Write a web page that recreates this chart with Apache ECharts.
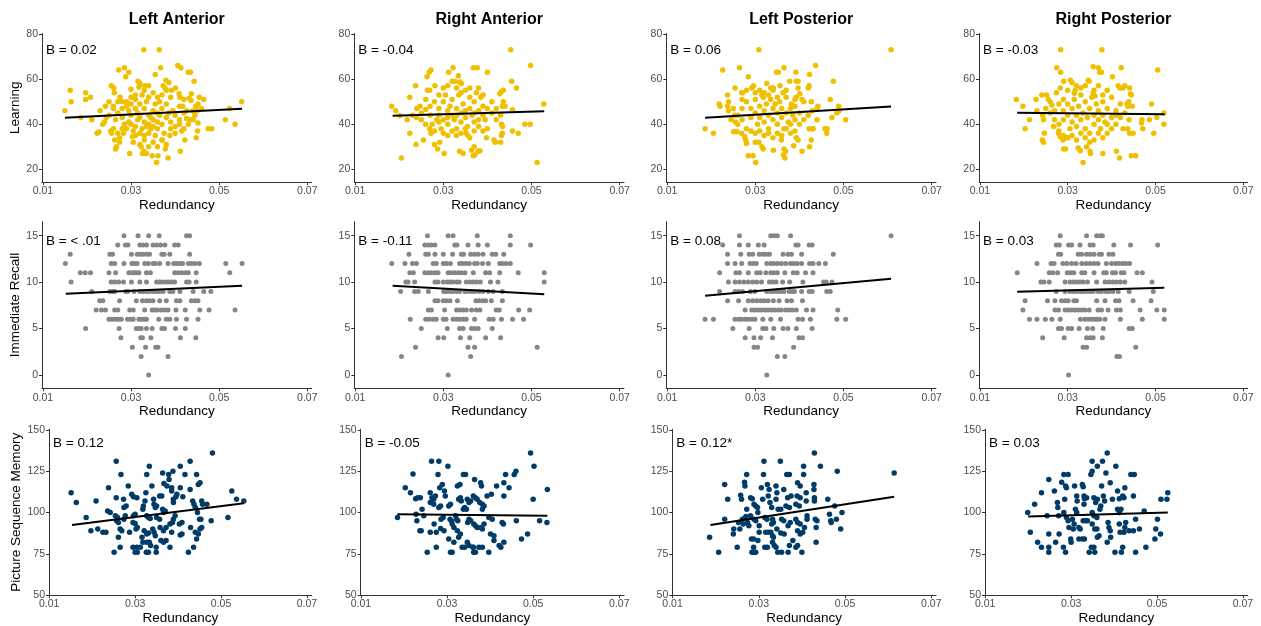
<!DOCTYPE html>
<html>
<head>
<meta charset="utf-8">
<script src="https://cdn.jsdelivr.net/npm/echarts@6/dist/echarts.min.js"></script>
<style>
  html, body { margin: 0; padding: 0; background: #ffffff; }
  #chart { width: 1261px; height: 626px; }
</style>
</head>
<body>
<div id="chart"></div>
<script>
// ---- labels and ticks ----
const regions = ['Left Anterior', 'Right Anterior', 'Left Posterior', 'Right Posterior'];
const measures = ['Learning', 'Immediate Recall', 'Picture Sequence Memory'];
const xTicks = [0.01, 0.03, 0.05, 0.07];
const learningTicks = [20, 40, 60, 80];
const recallTicks = [0, 5, 10, 15];
const pictureTicks = [50, 75, 100, 125, 150];
const learningBetas = ['B = 0.02', 'B = -0.04', 'B = 0.06', 'B = -0.03'];
const recallBetas = ['B = < .01', 'B = -0.11', 'B = 0.08', 'B = 0.03'];
const pictureBetas = ['B = 0.12', 'B = -0.05', 'B = 0.12*', 'B = 0.03'];

// ---- Learning: [redundancy, score] ----
const learningLA = [
  [0.0329,73],[0.0364,73],[0.0272,64],[0.0285,65],[0.0295,63],[0.0367,65],[0.0406,66],[0.0413,65],[0.043,63],[0.0435,63],
  [0.0355,62],[0.0288,61],[0.0162,55],[0.0164,50],[0.0197,54],[0.0197,51],[0.0208,52],[0.0186,43],[0.015,46],[0.0211,42],
  [0.0223,36],[0.0227,36.5],[0.0236,40],[0.0242,48],[0.0255,57],[0.0261,56],[0.0262,54],[0.027,50],[0.026,47],[0.0244,43],
  [0.0254,37],[0.0256,36],[0.0263,33],[0.0267,30],[0.0265,29],[0.0274,34],[0.0274,32],[0.028,38],[0.0283,36],[0.0297,27],
  [0.0303,34.5],[0.0305,32],[0.03,55.5],[0.0316,59],[0.032,58],[0.0318,56.5],[0.0331,57],[0.034,57],[0.0323,30],[0.0329,28],
  [0.0326,27],[0.0335,27],[0.0348,26],[0.0361,26],[0.0358,23],[0.0384,25],[0.0378,29],[0.0412,28],[0.0371,33],[0.0388,35],
  [0.0422,33],[0.0448,34],[0.0379,59.5],[0.0386,58.5],[0.0373,57],[0.0377,56],[0.0392,55],[0.0401,56],[0.0409,53.5],[0.0411,52],
  [0.0443,59],[0.0437,53.5],[0.0432,51.5],[0.0436,50.5],[0.042,51],[0.0455,52],[0.0465,51],[0.0452,49],[0.0447,48],[0.0551,50],
  [0.0524,47],[0.0514,42],[0.0536,40],[0.0475,38],[0.0483,38],[0.0451,37],[0.0452,40.5],[0.0441,42],[0.0433,42],[0.0426,42.5],
  [0.0426,46],[0.0417,48],
  [0.028,50],[0.029,48],[0.0295,46],[0.030,44],[0.030,49],[0.031,51],[0.031,47],[0.0315,45],[0.032,43],[0.032,49],
  [0.0325,53],[0.033,41],[0.033,47],[0.0335,50],[0.034,44],[0.034,40],[0.0345,38],[0.035,42],[0.035,46],[0.0355,49],
  [0.036,41],[0.036,38],[0.0365,44],[0.037,47],[0.037,40],[0.0375,36],[0.038,43],[0.038,49],[0.0385,45],[0.039,41],
  [0.039,52],[0.0395,46],[0.040,39],[0.040,44],[0.041,48],[0.041,42],[0.0415,37],[0.042,45],[0.043,40],[0.044,46],
  [0.028,43],[0.027,45],[0.0265,42],[0.026,38],[0.027,36],[0.0285,40],[0.029,38],[0.0295,41],[0.0305,37],[0.031,39],
  [0.0315,42],[0.032,36],[0.0325,38],[0.033,35],[0.0335,39],[0.034,36],[0.0345,43],[0.035,39],[0.0355,35],[0.036,45],
  [0.0365,50],[0.037,53],[0.038,55],[0.036,52],[0.035,54],[0.034,52],[0.033,55],[0.032,58],[0.031,53],[0.030,52],
  [0.029,50],[0.028,47],[0.0275,52],[0.030,40],[0.031,35],[0.032,31],[0.033,33],[0.034,30],[0.035,32],[0.036,30],
  [0.037,33],[0.038,31],[0.039,38],[0.040,36],[0.041,40],[0.042,38],[0.025,44],[0.024,41],[0.023,46],[0.026,48],
  [0.025,50],[0.0445,44],[0.045,46],[0.046,47]
];
const learningRA = [
  [0.0453,73],[0.0498,66],[0.0513,23],[0.0205,25],[0.0528,49],[0.0183,48],[0.0192,46],[0.0201,43.7],[0.0224,52],[0.0237,57],
  [0.0224,36],[0.0238,31],[0.0255,33],[0.0218,42],[0.0239,43],[0.0247,48],[0.0263,61],[0.0268,63],[0.0272,64],[0.0264,55],
  [0.0269,55],[0.0281,57],[0.026,46.5],[0.0272,36],[0.0269,38],[0.0287,29],[0.028,31],[0.0292,32],[0.0302,27],[0.0312,63],
  [0.0322,65],[0.032,59],[0.0326,59],[0.0334,61.5],[0.0337,58.7],[0.0341,58],[0.0368,65],[0.0377,65],[0.04,63],[0.0436,55],
  [0.0428,53.5],[0.0432,54.5],[0.0455,59],[0.0466,56],[0.0436,50],[0.0434,48],[0.0457,46.4],[0.0485,40],[0.0497,40],[0.047,36],
  [0.0457,37],[0.0432,40],[0.0434,39],[0.0432,35],[0.0434,36],[0.043,32],[0.0415,33],[0.0418,32],[0.0398,34],[0.037,30],
  [0.0364,28.5],[0.0368,26],[0.0372,26.5],[0.0379,28],[0.0383,28.3],[0.0337,28],[0.0345,27],[0.0352,36],[0.0356,35],
  [0.028,50],[0.029,47],[0.029,44],[0.030,42],[0.030,50],[0.0305,53],[0.031,46],[0.031,40],[0.0315,48],[0.032,44],
  [0.032,51],[0.0325,42],[0.033,47],[0.033,38],[0.0335,53],[0.034,45],[0.034,41],[0.0345,49],[0.035,43],[0.035,55],
  [0.0355,39],[0.036,47],[0.036,52],[0.0365,44],[0.037,41],[0.037,50],[0.0375,54],[0.038,46],[0.038,39],[0.0385,52],
  [0.039,44],[0.039,48],[0.0395,42],[0.040,47],[0.040,38],[0.041,45],[0.041,50],[0.042,42],[0.027,44],[0.0275,40],
  [0.028,37],[0.0285,42],[0.0295,38],[0.030,36],[0.031,35],[0.032,37],[0.033,35],[0.034,36],[0.035,38],[0.036,34],
  [0.037,37],[0.038,42],[0.039,37],[0.029,53],[0.030,56],[0.031,57],[0.033,56],[0.034,54],[0.036,56],[0.038,56],
  [0.039,53],[0.037,45],[0.035,46],[0.033,44],[0.031,43],[0.029,41],[0.027,48],[0.026,51],[0.025,45],[0.024,47],
  [0.023,44],[0.026,40],[0.025,42],[0.042,47],[0.043,44],[0.044,48]
];
const learningLP = [
  [0.0608,73],[0.0308,73],[0.0226,64],[0.0264,65],[0.0284,61],[0.0365,65],[0.0392,63],[0.0348,63],[0.0352,63],[0.0437,66],
  [0.0423,62],[0.0477,59],[0.0186,38],[0.0205,36],[0.0218,49],[0.022,48],[0.0237,53],[0.0239,50],[0.0237,48],[0.0239,46],
  [0.0254,56],[0.0253,44],[0.0255,41],[0.0251,36.7],[0.0258,36.7],[0.0269,36],[0.0276,34.5],[0.0278,33],[0.028,31.5],[0.0284,26],
  [0.0295,26],[0.0301,23],[0.0269,54],[0.0271,54],[0.0292,56],[0.0296,57],[0.0318,52],[0.0326,58],[0.0335,56],[0.0341,56],
  [0.0356,57],[0.0363,54],[0.0378,59],[0.0393,59],[0.0397,59],[0.0397,56],[0.0401,53.5],[0.0393,52],[0.0406,51],[0.039,51],
  [0.0382,49],[0.042,56],[0.0422,57],[0.0427,50],[0.0429,46],[0.0442,48],[0.047,51],[0.0489,48],[0.0485,45],[0.049,46],
  [0.0505,42],[0.0474,43],[0.0458,38],[0.0462,36],[0.0463,38],[0.0431,38],[0.0422,38],[0.0427,33],[0.0423,30],[0.0406,28],
  [0.0397,33],[0.0393,34],[0.0387,30.5],[0.0365,29],[0.0369,28],[0.0364,26.5],[0.0367,25],[0.0359,33],[0.0341,28.5],[0.0315,30],
  [0.0318,29],[0.0308,32],[0.03,32],
  [0.028,50],[0.029,47],[0.029,43],[0.030,45],[0.030,51],[0.0305,40],[0.031,48],[0.031,43],[0.0315,53],[0.032,46],
  [0.032,41],[0.0325,49],[0.033,44],[0.033,38],[0.0335,51],[0.034,47],[0.034,42],[0.0345,49],[0.035,45],[0.035,40],
  [0.0355,50],[0.036,43],[0.036,47],[0.0365,38],[0.037,45],[0.037,52],[0.0375,41],[0.038,47],[0.038,36],[0.0385,44],
  [0.039,42],[0.039,48],[0.040,40],[0.040,45],[0.041,42],[0.041,50],[0.042,44],[0.027,42],[0.027,47],[0.026,40],
  [0.028,38],[0.029,37],[0.030,36],[0.031,37],[0.032,35],[0.033,36],[0.034,34],[0.035,36],[0.036,35],[0.037,38],
  [0.038,40],[0.039,37],[0.030,54],[0.031,55],[0.032,54],[0.033,53],[0.034,55],[0.035,52],[0.037,55],[0.044,42],
  [0.043,38],[0.044,47],[0.026,44],[0.025,47],[0.0245,42],[0.027,51],[0.028,55]
];
const learningRP = [
  [0.0284,73],[0.0378,73],[0.0183,51],[0.0198,48],[0.0203,38],[0.0213,42],[0.0228,51],[0.0241,53],[0.023,46],[0.0243,44],
  [0.0245,42],[0.0242,33],[0.0245,32],[0.0247,36],[0.0252,53],[0.0256,51],[0.026,50],[0.0264,48.5],[0.0275,65],[0.0284,63],
  [0.0274,54],[0.0283,56],[0.0291,59],[0.0295,29],[0.0291,29],[0.0268,39],[0.0279,36],[0.0283,34.5],[0.0289,33],[0.0298,34],
  [0.0306,59.5],[0.031,58.5],[0.0317,55],[0.0315,53.7],[0.0324,29.5],[0.0329,28.3],[0.0335,23],[0.0343,30],[0.0351,28],[0.0352,27],
  [0.0358,65.5],[0.037,65],[0.0373,63],[0.0377,63],[0.0347,59.5],[0.0349,59],[0.0358,54],[0.0362,52.5],[0.038,27],[0.0402,61],
  [0.0422,65],[0.0415,57],[0.0419,56],[0.043,57],[0.0426,56],[0.0441,56],[0.0443,53.5],[0.0445,53],[0.0411,28],[0.0418,25],
  [0.0445,26],[0.0455,26],[0.0449,36],[0.0437,38],[0.0426,38],[0.0441,36],[0.0471,38],[0.0468,40.5],[0.0469,42],[0.0486,42],
  [0.0491,49],[0.0496,36],[0.0505,64],[0.0503,43],[0.0519,45],[0.0519,40],[0.0437,48],[0.0439,50],[0.0447,48],[0.0411,44],
  [0.028,49],[0.029,46],[0.029,42],[0.030,44],[0.030,49],[0.0305,38],[0.031,47],[0.031,41],[0.0315,51],[0.032,44],
  [0.032,39],[0.0325,48],[0.033,42],[0.033,53],[0.0335,45],[0.034,38],[0.034,50],[0.0345,43],[0.035,47],[0.035,36],
  [0.0355,52],[0.036,44],[0.036,40],[0.0365,49],[0.037,42],[0.037,46],[0.0375,38],[0.038,50],[0.038,44],[0.0385,41],
  [0.039,47],[0.039,36],[0.040,43],[0.040,52],[0.041,40],[0.041,46],[0.042,43],[0.042,49],[0.027,46],[0.027,42],
  [0.028,40],[0.028,37],[0.029,35],[0.030,34],[0.031,35],[0.032,33],[0.033,36],[0.034,34],[0.035,32],[0.036,33],
  [0.037,36],[0.038,34],[0.039,40],[0.040,38],[0.033,56],[0.034,57],[0.036,55],[0.037,57],[0.038,53],[0.039,55],
  [0.032,57],[0.030,55],[0.029,51],[0.026,45],[0.025,47],[0.043,45],[0.044,42],[0.0435,49]
];

// ---- Immediate Recall: redundancy values listed under each score 0..15 ----
const recallLA = [
  [0.034], [], [0.0323,0.0384], [0.0303,0.0333,0.0356,0.0361],
  [0.0277,0.0322,0.0326,0.0345,0.0412,0.0447],
  [0.0197,0.0273,0.0312,0.0318,0.0323,0.0335,0.0348,0.037,0.0376,0.0401,0.0423],
  [0.025,0.0255,0.0261,0.0267,0.0272,0.0278,0.0292,0.0299,0.0305,0.0318,0.0324,0.033,0.0335,0.0363,0.038,0.0388,0.0403,0.0426,0.0452],
  [0.0221,0.0233,0.0242,0.0263,0.027,0.0297,0.0305,0.0331,0.0348,0.0354,0.036,0.0369,0.0377,0.0384,0.0402,0.0423,0.0456,0.0477,0.0536],
  [0.0229,0.0236,0.0274,0.0312,0.0326,0.0335,0.0342,0.035,0.0365,0.038,0.0403,0.0411,0.0437,0.0445,0.0452],
  [0.0211,0.0252,0.0258,0.0263,0.0288,0.0293,0.0307,0.032,0.0327,0.0335,0.0342,0.035,0.0358,0.0365,0.0373,0.0388,0.0395,0.0411,0.0441,0.0465,0.0481],
  [0.0164,0.0255,0.0263,0.0272,0.0283,0.0301,0.032,0.0335,0.0358,0.0364,0.0369,0.0377,0.0384,0.0392,0.0399,0.0426,0.0432,0.0448],
  [0.0185,0.0196,0.0208,0.025,0.0265,0.0295,0.0301,0.0307,0.0312,0.0318,0.0335,0.0344,0.0399,0.0407,0.0415,0.0423,0.043,0.0448,0.0524],
  [0.0151,0.0255,0.0263,0.0284,0.0302,0.0308,0.0314,0.0331,0.0339,0.035,0.0355,0.0365,0.0384,0.0397,0.0403,0.0411,0.0417,0.043,0.0437,0.0445,0.0455,0.0515,0.0552],
  [0.0162,0.0252,0.0258,0.0301,0.0314,0.0321,0.0327,0.0335,0.0342,0.037,0.0375,0.0388,0.0433],
  [0.027,0.0287,0.0293,0.032,0.0327,0.0335,0.035,0.0358,0.0367,0.0377,0.0399,0.0407],
  [0.0284,0.0316,0.034,0.0364,0.0426,0.0433]
];
const recallRA = [
  [0.0311], [], [0.0205,0.0362], [0.0237,0.0356,0.0371,0.0513],
  [0.0288,0.0301,0.0339,0.036,0.0396,0.043],
  [0.025,0.0309,0.0337,0.0345,0.0364,0.0371,0.0379,0.0411],
  [0.0225,0.026,0.0268,0.0277,0.0284,0.03,0.0306,0.0322,0.033,0.0337,0.0345,0.0352,0.0371,0.0404,0.0413,0.0432,0.0457,0.0482],
  [0.0266,0.0273,0.0303,0.033,0.0337,0.0345,0.0352,0.0364,0.0375,0.0383,0.042,0.0427,0.0471,0.0496],
  [0.0281,0.0288,0.03,0.0307,0.0315,0.0332,0.0374,0.0381,0.0389,0.0396,0.0409,0.0434],
  [0.0203,0.0235,0.0243,0.0266,0.0301,0.0307,0.0315,0.0322,0.033,0.0337,0.0349,0.0356,0.0364,0.0371,0.0381,0.039,0.0402,0.0413,0.0434],
  [0.0215,0.022,0.0235,0.0281,0.0288,0.03,0.0309,0.0315,0.0321,0.033,0.0336,0.0352,0.036,0.0367,0.0375,0.0384,0.0407,0.0424,0.0529],
  [0.0224,0.0232,0.0258,0.0266,0.0273,0.0281,0.0288,0.0311,0.0318,0.0326,0.0334,0.0341,0.0349,0.0368,0.0396,0.0405,0.0428,0.047,0.0529],
  [0.0183,0.0213,0.023,0.0239,0.0277,0.0284,0.03,0.0307,0.0316,0.0337,0.0343,0.0351,0.0359,0.0371,0.0377,0.0389,0.0402,0.0428,0.0434,0.0442,0.0452],
  [0.0222,0.026,0.0266,0.0281,0.03,0.0321,0.0341,0.0346,0.0362,0.0371,0.0379,0.039,0.0411,0.0419,0.0437],
  [0.0258,0.0266,0.0273,0.0281,0.0326,0.0331,0.0356,0.0379,0.04,0.0452,0.0498],
  [0.0264,0.0311,0.0322,0.0377,0.0452]
];
const recallLP = [
  [0.0326], [], [0.035,0.0367], [0.0297,0.0305,0.0387],
  [0.0277,0.0297,0.0312,0.0339,0.0399,0.0407],
  [0.0249,0.0286,0.0317,0.0324,0.0342,0.0363,0.0374,0.0393,0.0429],
  [0.0186,0.0205,0.0254,0.0262,0.0269,0.0277,0.0284,0.0292,0.0299,0.0317,0.0335,0.0357,0.0397,0.0407,0.0425,0.0485,0.0505],
  [0.0277,0.0292,0.0299,0.0307,0.0314,0.0322,0.0329,0.0337,0.0344,0.0352,0.0359,0.0369,0.0377,0.0384,0.0393,0.0416,0.0431,0.0487],
  [0.0237,0.0262,0.0284,0.0294,0.0303,0.0312,0.032,0.0329,0.0341,0.0354,0.0372,0.0382,0.0407],
  [0.0219,0.0254,0.0262,0.0271,0.0289,0.0299,0.0326,0.0335,0.0342,0.035,0.0357,0.0365,0.0377,0.0384,0.0389,0.0405,0.0422,0.0429,0.0462,0.047],
  [0.0239,0.0254,0.0264,0.0274,0.0284,0.0294,0.0303,0.0314,0.0332,0.0339,0.0347,0.0362,0.0378,0.0408,0.0455,0.0461,0.0474],
  [0.0219,0.0256,0.0264,0.0284,0.0303,0.0311,0.0324,0.0335,0.0342,0.035,0.0367,0.0386,0.0395,0.0414,0.0431],
  [0.0237,0.0254,0.0269,0.0288,0.0295,0.0302,0.0326,0.0335,0.0342,0.035,0.0359,0.0369,0.038,0.0387,0.0395,0.0405,0.0423,0.0431,0.0444,0.0459],
  [0.0237,0.0267,0.0286,0.0294,0.0309,0.0317,0.0324,0.0332,0.0363,0.0374,0.0382,0.0405,0.0477],
  [0.0226,0.0264,0.0284,0.0307,0.032,0.0392,0.0397,0.0422,0.0429],
  [0.0264,0.0335,0.0343,0.035,0.038,0.0608]
];
const recallRP = [
  [0.0302], [], [0.0412,0.0418], [0.0335,0.0343,0.0455],
  [0.0243,0.0292,0.0343,0.0351,0.0358,0.0379],
  [0.0279,0.0286,0.0301,0.0309,0.0326,0.0345,0.0357,0.0381,0.044,0.0447],
  [0.0213,0.023,0.0249,0.0264,0.0283,0.0329,0.0339,0.0347,0.0354,0.036,0.0366,0.0373,0.0385,0.042,0.047,0.052],
  [0.0198,0.0271,0.0279,0.0294,0.0301,0.0309,0.0316,0.0324,0.0332,0.0339,0.0349,0.0369,0.0377,0.0392,0.0411,0.042,0.0465,0.0503,0.052],
  [0.0203,0.0254,0.0271,0.0286,0.0294,0.0301,0.0314,0.032,0.0366,0.0385,0.0409,0.0417,0.0449,0.049],
  [0.0274,0.0294,0.0305,0.0313,0.032,0.0328,0.0335,0.0343,0.0351,0.0358,0.0369,0.0377,0.0387,0.0394,0.0403,0.0415,0.044,0.0495],
  [0.0239,0.0246,0.0258,0.0294,0.0305,0.0313,0.032,0.0328,0.0335,0.0345,0.0366,0.0385,0.0394,0.0403,0.0411,0.042,0.043,0.0492],
  [0.0185,0.0258,0.0266,0.0277,0.0299,0.0307,0.0314,0.0332,0.0339,0.036,0.0382,0.0388,0.0402,0.0409,0.0422,0.0428,0.0458,0.047],
  [0.023,0.0262,0.0269,0.0289,0.0298,0.0309,0.0319,0.0332,0.0342,0.0351,0.036,0.0369,0.0388,0.04,0.0409,0.0417,0.0425,0.0432,0.0441],
  [0.0279,0.0284,0.0324,0.0332,0.0343,0.0351,0.036,0.0372,0.0377,0.0394,0.0403],
  [0.0274,0.0281,0.0302,0.0309,0.0328,0.0351,0.0358,0.0405,0.0443,0.0505],
  [0.0283,0.0343,0.0366,0.0374,0.0379]
];

// ---- Picture Sequence Memory: [redundancy, score] ----
const pictureLA = [
  [0.0151,112],[0.0163,106],[0.0186,97],[0.0197,89],[0.0209,107],[0.0213,90],[0.0225,88],[0.0232,88],[0.0238,115],[0.0236,101],
  [0.0242,100],[0.0251,76],[0.0256,131],[0.0256,109],[0.0254,98],[0.0259,97],[0.0257,95],[0.0261,94],[0.0261,85],[0.0267,123],
  [0.0265,90],[0.0269,89],[0.0265,79],[0.0273,108],[0.0274,103],[0.0279,104],[0.0277,98],[0.0274,96],[0.0284,116],[0.0287,88],
  [0.0292,111],[0.0296,109.6],[0.0304,109],[0.0296,98],[0.03,99],[0.0295,94],[0.03,93.4],[0.0295,79],[0.0304,79],[0.0312,79],
  [0.03,76],[0.0305,76],[0.0302,90],[0.0305,91],[0.0316,85],[0.0318,82],[0.0325,112],[0.0327,123],[0.0333,128],[0.0323,107],
  [0.0319,104],[0.0318,102],[0.0327,98],[0.0331,97],[0.0335,96.4],[0.0321,89],[0.0327,87],[0.0331,87.6],[0.0326,76],[0.0331,76],
  [0.0327,82],[0.0333,82],[0.0336,80],[0.0339,116],[0.0343,108],[0.0344,105],[0.035,104],[0.0347,103],[0.0341,90],[0.0344,88],
  [0.0347,86],[0.035,97],[0.0357,96],[0.0349,79],[0.0349,76],[0.0357,110],[0.0362,110],[0.0364,124],[0.0367,117.6],[0.0374,116],
  [0.0378,123],[0.0379,120],[0.0388,125],[0.0364,102],[0.037,101],[0.0366,100],[0.0358,91],[0.0366,89],[0.0372,91],[0.036,83],
  [0.0366,82],[0.0372,83],[0.0381,79],[0.0385,115],[0.0385,113],[0.0389,108],[0.0389,106],[0.0395,109.6],[0.0381,93],[0.0387,94],
  [0.0389,96],[0.0385,88],[0.0393,98],[0.0397,111],[0.0405,128],[0.0405,115],[0.0403,93],[0.0409,94],[0.0409,87],[0.0405,86.4],
  [0.0411,109.6],[0.0416,123],[0.0428,131],[0.0428,114],[0.0424,76],[0.0429,91],[0.0434,107],[0.0437,105],[0.044,103],[0.0436,79],
  [0.0443,123],[0.0447,117],[0.0451,118],[0.0445,100],[0.045,96],[0.0453,96],[0.0443,84],[0.044,88],[0.0447,87],[0.0451,90],
  [0.0455,91],[0.0455,107],[0.0457,105],[0.0467,105],[0.048,136],[0.0477,95],[0.0516,97],[0.0525,113],[0.0536,108],[0.0553,107]
];
const pictureRA = [
  [0.0185,97],[0.0203,115],[0.0215,112],[0.0221,123.4],[0.0227,108.4],[0.0232,109],[0.0238,109],[0.023,95],[0.0228,99],[0.0237,89],
  [0.024,89],[0.0242,102],[0.0246,98],[0.0254,76],[0.0264,131],[0.0281,131],[0.0261,112],[0.0265,109],[0.0269,108],[0.0273,110],
  [0.0261,106],[0.0269,105],[0.0261,88],[0.0275,88],[0.027,93],[0.0275,79],[0.0279,123],[0.0281,103],[0.0285,104],[0.0283,115],
  [0.0289,117],[0.0286,96],[0.0291,97],[0.0285,90.4],[0.0293,89],[0.0294,113],[0.0296,110],[0.0302,128],[0.0304,104],[0.0308,105],
  [0.0307,96],[0.031,95],[0.0304,84],[0.0308,76],[0.0312,76],[0.0312,93],[0.0316,91],[0.0316,82],[0.0322,96],[0.0325,95],
  [0.032,98],[0.0324,116],[0.033,117],[0.0327,108],[0.0331,109],[0.0333,107],[0.0324,89],[0.0327,85],[0.0331,87],[0.0338,123],
  [0.0343,123],[0.0338,102],[0.0341,103],[0.0345,102],[0.0335,79],[0.0341,79],[0.0347,108],[0.0351,106],[0.0355,107],[0.0351,96],
  [0.0355,95],[0.0348,94],[0.0347,82],[0.0351,80],[0.036,79],[0.0361,79],[0.0364,120],[0.0361,110],[0.0366,109],[0.037,108],
  [0.0362,93],[0.0366,92],[0.037,91],[0.0362,76],[0.0366,76],[0.0378,118],[0.038,116],[0.0376,106],[0.0382,105],[0.0386,104],
  [0.0382,102],[0.0378,91],[0.0382,90],[0.0386,93],[0.0374,79],[0.0382,79],[0.0393,110],[0.0403,111],[0.0397,97],[0.0405,96],
  [0.0397,76],[0.0401,87],[0.0409,86],[0.0409,83],[0.0415,116],[0.0421,80],[0.0425,79],[0.0428,94],[0.0431,93],[0.0432,82],
  [0.0432,118],[0.0436,123],[0.0432,110],[0.0444,115],[0.0456,123],[0.046,125],[0.0461,95],[0.0473,84],[0.0487,87],[0.0494,136],
  [0.0502,128],[0.05,108],[0.0515,95],[0.0532,94],[0.0533,114]
];
const pictureLP = [
  [0.0186,85],[0.0207,76],[0.0221,117],[0.0221,96],[0.0228,108],[0.0241,87],[0.0242,90],[0.025,79],[0.0253,94],[0.0256,90],
  [0.0258,110.4],[0.026,108],[0.0262,96],[0.0264,93],[0.0267,118.4],[0.0268,116],[0.0272,123],[0.027,97.6],[0.0274,94],[0.0272,102],
  [0.0277,92],[0.0281,98],[0.0281,109],[0.0285,108.4],[0.0283,84],[0.0288,84],[0.0284,76],[0.0289,76],[0.0293,76],[0.0288,79],
  [0.0289,105],[0.0293,104],[0.0297,103],[0.0298,100],[0.0289,96],[0.0293,95],[0.0301,92],[0.0301,88],[0.0298,83],[0.0306,115],
  [0.0309,108],[0.0311,123],[0.0312,131],[0.0314,97],[0.0319,96],[0.0316,88],[0.0322,88],[0.0314,79],[0.032,79],[0.032,117],
  [0.0324,114],[0.0322,110],[0.0326,106],[0.033,103],[0.0332,96],[0.0334,94],[0.033,93],[0.0328,88],[0.0332,86],[0.0334,85],
  [0.0332,82],[0.0336,80],[0.034,79],[0.0342,90],[0.034,116],[0.0342,112],[0.034,108],[0.035,131],[0.0345,102],[0.0351,102],
  [0.0353,96],[0.0358,95],[0.0351,87.6],[0.0359,87],[0.0344,76],[0.0353,76],[0.0358,114],[0.0365,123],[0.0371,123],[0.0367,109],
  [0.0375,110],[0.0363,104],[0.0371,103],[0.0368,92],[0.0373,94],[0.0371,80],[0.0379,83],[0.0368,76],[0.0386,105],[0.0394,104],
  [0.039,118],[0.0396,116],[0.0389,110],[0.0396,109],[0.0386,96],[0.039,94],[0.0396,93],[0.039,89],[0.0396,87],[0.0402,88],
  [0.0386,79],[0.039,80],[0.04,76],[0.0404,128],[0.0404,123],[0.041,112],[0.041,107],[0.0412,98],[0.0412,96],[0.0406,91],
  [0.0428,117],[0.0428,114],[0.0429,109],[0.0429,107],[0.0431,96],[0.0435,95],[0.0433,91],[0.0429,136],[0.0433,82],[0.0443,128],
  [0.046,108],[0.0464,99],[0.0467,95],[0.0468,94],[0.0476,104],[0.048,96],[0.0482,125],[0.049,90],[0.0493,100],[0.0614,124]
];
const pictureRP = [
  [0.0199,100],[0.0205,88],[0.0215,105],[0.0222,82],[0.0231,79],[0.0231,112],[0.0244,98],[0.0248,120],[0.0248,87],[0.0248,79],
  [0.0248,76],[0.0261,113],[0.0264,82],[0.0268,106],[0.0269,103],[0.0271,98],[0.0272,87],[0.0278,118.4],[0.0282,79],[0.0283,123],
  [0.0293,123],[0.0285,108],[0.0287,116],[0.0289,115],[0.0287,76],[0.0283,100],[0.0289,97],[0.0293,95],[0.0295,91],[0.0299,84],
  [0.03,82],[0.0303,96],[0.0307,93],[0.0305,90],[0.0308,116],[0.031,102],[0.0313,100],[0.0313,110],[0.0314,107],[0.0318,91],
  [0.0321,90],[0.0318,84],[0.0326,117],[0.0328,115.6],[0.033,110],[0.0331,108.4],[0.0336,109],[0.033,105],[0.0328,95],[0.0334,95],
  [0.0338,95],[0.0326,84],[0.0331,84],[0.0342,76],[0.0346,123],[0.0349,125],[0.0349,131],[0.0353,109],[0.0357,106],[0.0361,108],
  [0.0349,100],[0.0353,98],[0.036,97],[0.0349,93],[0.0355,90],[0.036,90],[0.0347,79],[0.0353,79],[0.0355,76],[0.0361,128],
  [0.0365,86],[0.0361,85],[0.0367,102],[0.0369,104],[0.0371,116],[0.0373,131],[0.0375,110],[0.0378,107],[0.0381,124],[0.0384,136],
  [0.0386,94],[0.0388,91],[0.0391,89],[0.0384,82],[0.0391,118],[0.0396,108],[0.0392,85],[0.0404,128],[0.0402,76],[0.0408,113],
  [0.0412,108.4],[0.0408,102],[0.0412,100],[0.0416,102],[0.0412,93],[0.0414,88],[0.0417,76],[0.042,79],[0.042,110],[0.0423,109],
  [0.0425,115],[0.0427,94],[0.0425,91],[0.0423,88],[0.0435,89],[0.0445,89],[0.0439,123],[0.0447,123],[0.0445,110],[0.045,96],
  [0.045,76],[0.0459,90],[0.047,101],[0.0474,79],[0.0495,84],[0.0497,90],[0.0501,96],[0.0508,87],[0.0509,108],[0.0523,108],
  [0.0525,112]
];

// ---- fitted regression lines: [[x start, y start], [x end, y end]] ----
const learningFits = [
  [[0.015, 42.9], [0.0552, 46.9]],
  [[0.0185, 43.8], [0.0529, 45.7]],
  [[0.0186, 42.9], [0.0608, 47.8]],
  [[0.0185, 45.1], [0.0521, 44.4]]
];
const recallFits = [
  [[0.0152, 8.75], [0.0552, 9.6]],
  [[0.0185, 9.6], [0.0529, 8.7]],
  [[0.0186, 8.53], [0.0608, 10.36]],
  [[0.0185, 8.96], [0.052, 9.39]]
];
const pictureFits = [
  [[0.0153, 92.4], [0.0553, 105.6]],
  [[0.0185, 99], [0.0533, 98]],
  [[0.0188, 92.4], [0.0614, 109.6]],
  [[0.02, 97.6], [0.0525, 100]]
];

// ---- assemble rows ----
const toPoints = byScore => byScore.flatMap((xs, score) => xs.map(x => [x, score]));
const rows = [
  { name: measures[0], points: [learningLA, learningRA, learningLP, learningRP], fits: learningFits,
    betas: learningBetas, ticks: learningTicks, color: '#EFC000', size: 5.5 },
  { name: measures[1], points: [recallLA, recallRA, recallLP, recallRP].map(toPoints), fits: recallFits,
    betas: recallBetas, ticks: recallTicks, color: '#868686', size: 5 },
  { name: measures[2], points: [pictureLA, pictureRA, pictureLP, pictureRP], fits: pictureFits,
    betas: pictureBetas, ticks: pictureTicks, color: '#003C67', size: 5.5 }
];

// ---- panel geometry (pixels) ----
const colLeft = [[42, 354.3, 666.3, 979], [42, 354.3, 666.3, 979], [49, 360.7, 672.3, 985]];
const colRight = [311.7, 624, 936, 1247.7];
const rowTop = [33.5, 221.7, 429.3];
const rowBottom = [182, 388.3, 596.7];
const yRange = [[14.4, 80.2], [-1.43, 16.5], [50, 150.4]];
const xRange = [[0.0098, 0.071], [0.0098, 0.071], [0.00995, 0.0711]];
const yNameGap = [19, 19, 26];

const FONT = '"Liberation Sans", Arial, Helvetica, sans-serif';
const axisColor = '#333333';
const tickText = '#4D4D4D';

const grids = [], xAxes = [], yAxes = [], series = [], graphics = [];

rows.forEach((row, r) => {
  for (let c = 0; c < 4; c++) {
    const idx = r * 4 + c;
    const left = colLeft[r][c];
    grids.push({ left: left, top: rowTop[r], width: colRight[c] - left, height: rowBottom[r] - rowTop[r] });
    xAxes.push({
      type: 'value', gridIndex: idx, min: xRange[r][0], max: xRange[r][1],
      name: 'Redundancy', nameLocation: 'middle', nameGap: 15,
      nameTextStyle: { color: '#000', fontSize: 13.5, fontFamily: FONT },
      axisLine: { show: true, onZero: false, lineStyle: { color: axisColor, width: 1 } },
      axisTick: { show: true, length: 3, customValues: xTicks, lineStyle: { color: axisColor } },
      axisLabel: { customValues: xTicks, color: tickText, fontSize: 10.5, margin: 4, fontFamily: FONT,
                   formatter: v => v.toFixed(2) },
      splitLine: { show: false }
    });
    yAxes.push({
      type: 'value', gridIndex: idx, min: yRange[r][0], max: yRange[r][1],
      name: c === 0 ? row.name : '', nameLocation: 'middle', nameGap: yNameGap[r],
      nameTextStyle: { color: '#000', fontSize: 13.5, fontFamily: FONT },
      axisLine: { show: true, onZero: false, lineStyle: { color: axisColor, width: 1 } },
      axisTick: { show: true, length: 3, customValues: row.ticks, lineStyle: { color: axisColor } },
      axisLabel: { customValues: row.ticks, color: tickText, fontSize: 10.5, margin: 4, fontFamily: FONT },
      splitLine: { show: false }
    });
    series.push({
      type: 'scatter', xAxisIndex: idx, yAxisIndex: idx, data: row.points[c],
      symbol: 'circle', symbolSize: row.size, itemStyle: { color: row.color, opacity: 1 },
      silent: true, z: 2
    });
    series.push({
      type: 'line', xAxisIndex: idx, yAxisIndex: idx, data: row.fits[c],
      symbol: 'none', lineStyle: { color: '#000', width: 2 }, silent: true, z: 3
    });
    // coefficient note in the panel's upper-left corner
    const labelY = [50.7, 241, 443.3][r];
    graphics.push({
      type: 'text', x: left + 4, y: labelY, silent: true,
      style: { text: row.betas[c], fill: '#000', font: '13.5px ' + FONT,
               textAlign: 'left', textVerticalAlign: 'middle', align: 'left', verticalAlign: 'middle' }
    });
  }
});

// column titles
regions.forEach((name, c) => {
  const cx = (colLeft[0][c] + colRight[c]) / 2;
  graphics.push({
    type: 'text', x: cx, y: 20, silent: true,
    style: { text: name, fill: '#000', font: 'bold 16px ' + FONT,
             textAlign: 'center', textVerticalAlign: 'middle', align: 'center', verticalAlign: 'middle' }
  });
});

const chart = echarts.init(document.getElementById('chart'), null, { renderer: 'canvas' });
chart.setOption({
  animation: false,
  backgroundColor: '#ffffff',
  textStyle: { fontFamily: FONT },
  grid: grids,
  xAxis: xAxes,
  yAxis: yAxes,
  series: series,
  graphic: graphics
});
</script>
</body>
</html>
